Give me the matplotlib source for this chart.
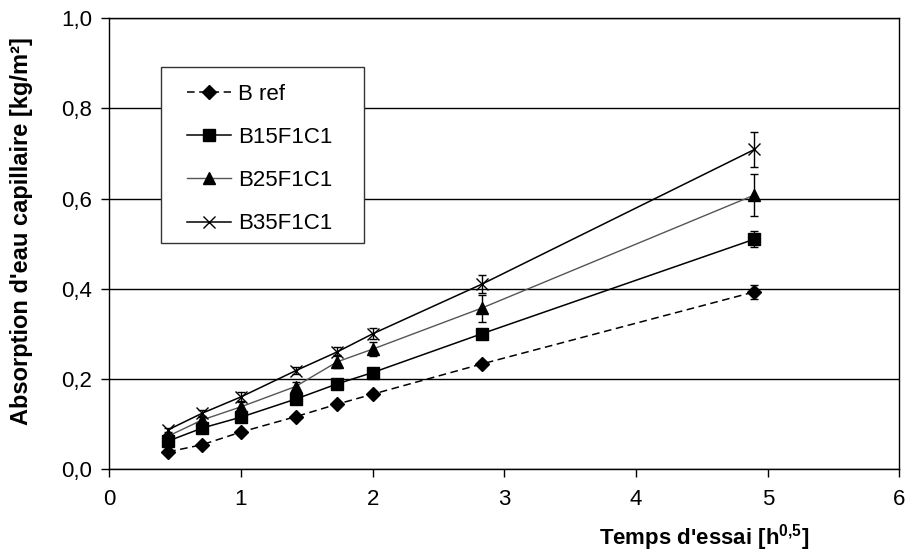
import matplotlib
matplotlib.use("Agg")
import matplotlib.pyplot as plt
from matplotlib.lines import Line2D
from matplotlib.patches import Rectangle

plt.rcParams['font.family'] = ['Liberation Sans', 'DejaVu Sans']
plt.rcParams['mathtext.fontset'] = 'custom'
plt.rcParams['mathtext.rm'] = 'Liberation Sans'
plt.rcParams['mathtext.bf'] = 'Liberation Sans:bold'

# Square root of test time [h^0.5]
sqrt_time = [0.447, 0.707, 1.0, 1.414, 1.732, 2.0, 2.828, 4.899]

b_ref = [0.038, 0.054, 0.082, 0.116, 0.144, 0.166, 0.233, 0.393]
b_ref_err = [0.003, 0.003, 0.004, 0.004, 0.005, 0.005, 0.006, 0.015]

b15 = [0.062, 0.091, 0.115, 0.155, 0.189, 0.214, 0.300, 0.510]
b15_err = [0.004, 0.005, 0.005, 0.005, 0.006, 0.006, 0.006, 0.017]

b25 = [0.073, 0.109, 0.138, 0.183, 0.238, 0.266, 0.357, 0.608]
b25_err = [0.005, 0.007, 0.010, 0.010, 0.015, 0.015, 0.030, 0.047]

b35 = [0.087, 0.124, 0.160, 0.218, 0.260, 0.300, 0.410, 0.709]
b35_err = [0.005, 0.007, 0.010, 0.008, 0.010, 0.012, 0.020, 0.038]

series_names = ['B ref', 'B15F1C1', 'B25F1C1', 'B35F1C1']

x_ticks = [0, 1, 2, 3, 4, 5, 6]
x_tick_labels = ['0', '1', '2', '3', '4', '5', '6']
y_ticks = [0.0, 0.2, 0.4, 0.6, 0.8, 1.0]
y_tick_labels = ['0,0', '0,2', '0,4', '0,6', '0,8', '1,0']

fig = plt.figure(figsize=(9.07, 5.53), dpi=100)
ax = fig.add_axes([0.1205, 0.1519, 0.8712, 0.815])

styles = [
    dict(color='black', ls=(0, (5, 3)), lw=1.1, marker='D', ms=7, mfc='black', mec='black'),
    dict(color='black', ls='-', lw=1.1, marker='s', ms=8, mfc='black', mec='black'),
    dict(color='#555555', ls='-', lw=1.0, marker='^', ms=9, mfc='black', mec='black'),
    dict(color='black', ls='-', lw=1.1, marker='x', ms=8.5, mfc='black', mec='black', mew=1.0),
]
data = [(b_ref, b_ref_err), (b15, b15_err), (b25, b25_err), (b35, b35_err)]

handles = []
for (vals, errs), st, name in zip(data, styles, series_names):
    ax.errorbar(sqrt_time, vals, yerr=errs, ecolor='black', elinewidth=1.0,
                capsize=2.8, capthick=1.0, zorder=3, **st)
    handles.append(Line2D([], [], label=name, **st))

ax.set_xlim(0, 6)
ax.set_ylim(0, 1.0)
ax.set_xticks(x_ticks)
ax.set_xticklabels(x_tick_labels)
ax.set_yticks(y_ticks)
ax.set_yticklabels(y_tick_labels)
ax.tick_params(direction='out', length=5.5, width=1, labelsize=16, colors='black')
ax.tick_params(axis='x', pad=9)
ax.tick_params(axis='y', pad=7)

ax.yaxis.grid(True, color='black', lw=1.0)
ax.set_axisbelow(True)
for sp in ax.spines.values():
    sp.set_color('black')
    sp.set_linewidth(1.0)

ax.set_ylabel("Absorption d'eau capillaire [kg/m²]", fontsize=17, fontweight='bold')
ax.yaxis.set_label_coords(-0.096, 0.528)
ax.text(0.7526, -0.153, r"Temps d'essai [h$^{\mathbf{0{,}5}}$]", transform=ax.transAxes,
        ha='center', va='center', fontsize=16, fontweight='bold')

# Legend box drawn as its own opaque frame
box = Rectangle((0.0654, 0.501), 0.2567, 0.390, transform=ax.transAxes,
                facecolor='white', edgecolor='#333333', lw=1.0, zorder=5)
ax.add_patch(box)
leg = ax.legend(handles=handles, loc='upper left', bbox_to_anchor=(0.098, 0.855),
                borderaxespad=0, fontsize=16, frameon=False,
                labelspacing=1.0, handlelength=2.0, handletextpad=0.3, borderpad=0)
leg.set_zorder(6)

fig.savefig('out.png', dpi=100)
